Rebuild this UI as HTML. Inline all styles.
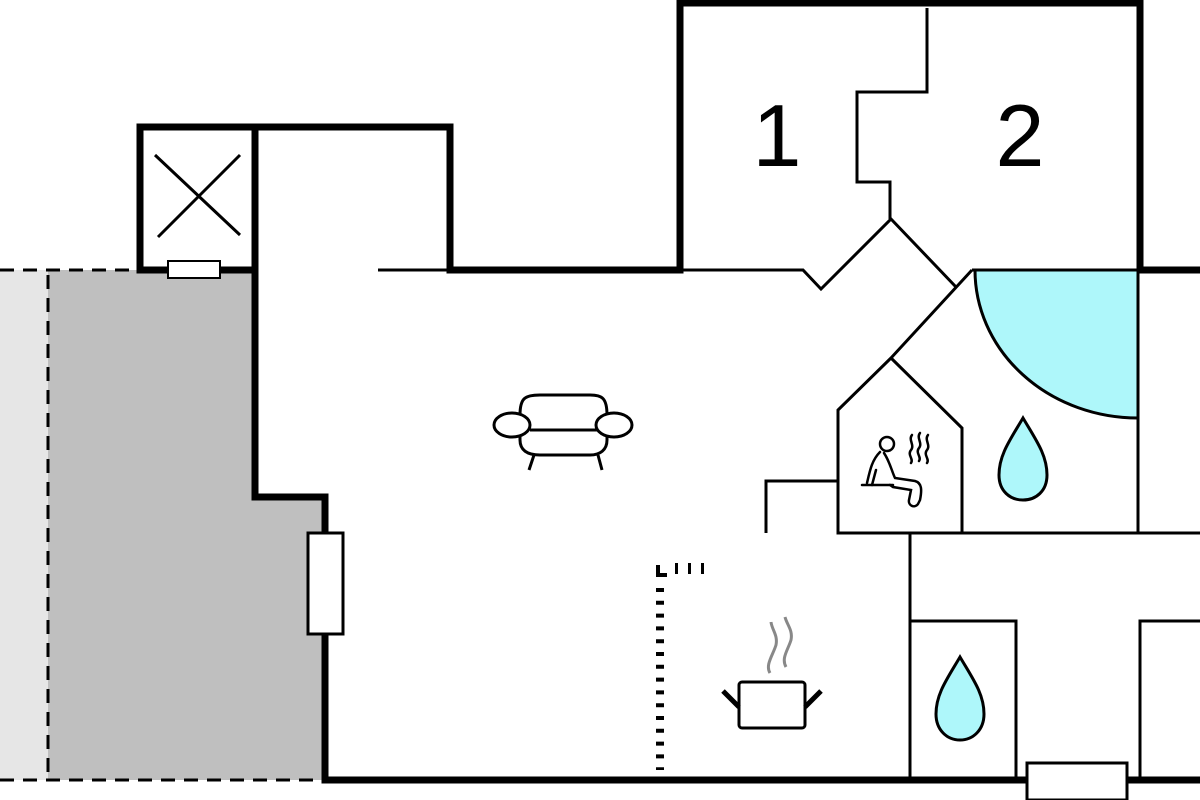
<!DOCTYPE html>
<html><head><meta charset="utf-8"><style>html,body{margin:0;padding:0;background:#fff}svg{display:block}</style></head><body>
<svg width="1200" height="800" viewBox="0 0 1200 800" xmlns="http://www.w3.org/2000/svg">
<rect x="0" y="270" width="48" height="510" fill="#e6e6e6"/>
<path d="M48 270 H255 V497 H325 V780 H48 Z" fill="#bfbfbf"/>
<g stroke="#000" stroke-width="3" fill="none" stroke-dasharray="14 9">
<path d="M0 270 H140"/><path d="M48 275 V780"/><path d="M0 780 H325"/>
</g>
<g stroke="#000" stroke-width="7" fill="none" stroke-linecap="square">
<path d="M140 270 V127 H450 V270 H680 V3 H1140 V270 H1200"/>
<path d="M140 270 H255"/>
<path d="M255 127 V497 H325 V780 H1200"/>
</g>
<rect x="168" y="261" width="52" height="17" fill="#fff" stroke="#000" stroke-width="2"/>
<rect x="308" y="533" width="35" height="101" fill="#fff" stroke="#000" stroke-width="3"/>
<rect x="1027" y="763" width="100" height="37" fill="#fff" stroke="#000" stroke-width="3"/>
<g stroke="#000" stroke-width="3" fill="none">
<path d="M155 155 L240 235 M240 155 L158 237"/>
<path d="M378 270 H450"/>
<path d="M680 270 H803 L821 289 L891 219 L956 287"/>
<path d="M927 8 V92 H857 V182 H890 V219"/>
<path d="M972 270 L891 358 L838 410 V533 H1200"/>
<path d="M891 358 L962 428 V533"/>
<path d="M972 270 H1138 V533"/>
<path d="M766 533 V481 H838"/>
<path d="M910 533 V780"/>
<path d="M910 621 H1016 V780"/>
<path d="M1200 621 H1140 V780"/>
</g>
<path d="M975 270 H1138 V418 A163 148 0 0 1 975 270 Z" fill="#aef7fa" stroke="#000" stroke-width="3"/>
<path d="M1023 418 C1010 440 999 455 999 475 C999 491 1010 500 1023 500 C1036 500 1047 491 1047 475 C1047 455 1036 440 1023 418 Z" fill="#aef7fa" stroke="#000" stroke-width="3"/>
<path d="M960 657 C947 679 936 694 936 714 C936 730 947 740 960 740 C973 740 984 730 984 714 C984 694 973 679 960 657 Z" fill="#aef7fa" stroke="#000" stroke-width="3"/>
<g fill="#000">
<rect x="656" y="573" width="11" height="4"/>
<rect x="656" y="565" width="4" height="10"/>
<rect x="675" y="563" width="3" height="11"/><rect x="688" y="563" width="3" height="11"/><rect x="701" y="563" width="3" height="11"/>
</g>
<path d="M660 588 V770" stroke="#000" stroke-width="8" stroke-dasharray="4 8.8" fill="none"/>
<g stroke="#000" stroke-width="3" fill="none">
<rect x="739" y="682" width="66" height="46" rx="3"/>
<path d="M723 691 L739 707 M821 691 L805 707" stroke-width="5"/>
</g>
<g stroke="#888" stroke-width="3" fill="none">
<path d="M770 673 C765 665 773 655 776 645 C778 635 772 630 771 622"/>
<path d="M786 667 C781 658 788 650 791 640 C793 630 787 625 785 617"/>
</g>
<g stroke="#000" stroke-width="3" fill="#fff">
<path d="M520 415 C520 398 525 395 540 395 H590 C602 395 607 398 607 415 V440 C607 450 600 455 590 455 H540 C527 455 520 450 520 440 Z"/>
<path d="M530 430 H600" fill="none"/>
<ellipse cx="512" cy="425" rx="18" ry="12"/>
<ellipse cx="614" cy="425" rx="18" ry="12"/>
<path d="M534 455 L529 470 M598 455 L602 470" fill="none"/>
</g>
<g stroke="#000" stroke-width="2.5" fill="none" stroke-linecap="round">
<circle cx="887" cy="444" r="7"/>
<path d="M880 452 C872 460 870 470 867 483 M884 453 C890 462 892 472 895 478 L915 481 C922 483 922 490 920 500 L918 504 C914 509 908 505 909 500 L911 490 L893 487 L890 485 M876 470 L872 485"/>
<path d="M862 485 H893"/>
<path d="M912 435 C908 440 915 445 911 450 C907 455 914 459 911 463 M920 433 C916 438 923 443 919 448 C915 453 922 457 919 461 M928 435 C924 440 931 445 927 450 C923 455 930 459 927 463"/>
</g>
<text x="777" y="166" font-family="Liberation Sans, sans-serif" font-size="88" text-anchor="middle" fill="#000">1</text>
<text x="1020" y="166" font-family="Liberation Sans, sans-serif" font-size="88" text-anchor="middle" fill="#000">2</text>
</svg>
</body></html>
